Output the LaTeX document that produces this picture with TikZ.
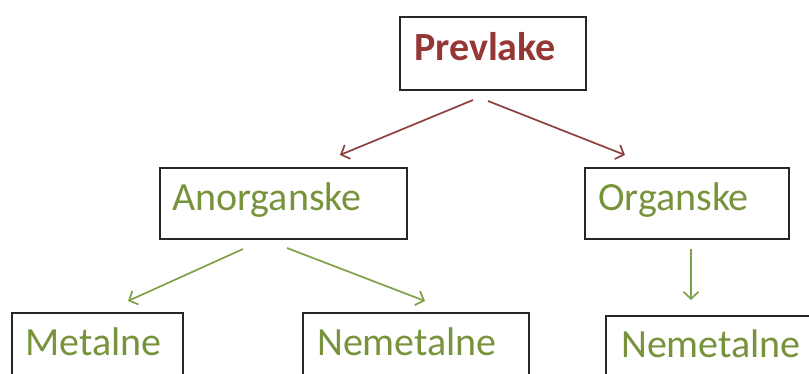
\documentclass[tikz,border=0pt]{standalone}
\usepackage{fontspec}
\setmainfont{Carlito}
\usetikzlibrary{arrows.meta}
\definecolor{redtxt}{HTML}{953735}
\definecolor{redarr}{HTML}{8E4040}
\definecolor{greentxt}{HTML}{77933C}
\definecolor{greenarr}{HTML}{7FA048}
\begin{document}
\begin{tikzpicture}[x=1pt,y=-1pt,
  box/.style={draw=black!85,line width=1.6pt,rectangle,inner sep=0pt},
  lbl/.style={anchor=base west,inner sep=0pt,font=\fontsize{40}{48}\selectfont},
  redarrow/.style={draw=redarr,line width=1.7pt,-{Straight Barb[length=7pt,width=15pt,line width=1.7pt]}},
  greenarrow/.style={draw=greenarr,line width=1.7pt,-{Straight Barb[length=7pt,width=15pt,line width=1.7pt]}}]
\useasboundingbox (0,0) rectangle (809,373);
\clip (0,0) rectangle (809,373);
% boxes
\node[box,minimum width=186pt,minimum height=73pt,anchor=north west] (prev) at (399,16) {};
\node[box,minimum width=247pt,minimum height=71pt,anchor=north west] (anorg) at (159,167) {};
\node[box,minimum width=204pt,minimum height=71pt,anchor=north west] (org) at (584,167) {};
\node[box,minimum width=171pt,minimum height=73pt,anchor=north west] (met) at (11,312) {};
\node[box,minimum width=226pt,minimum height=73pt,anchor=north west] (nem1) at (302,312) {};
\node[box,minimum width=230pt,minimum height=73pt,anchor=north west] (nem2) at (605,315) {};
% labels
\node[lbl,text=redtxt,font=\fontsize{40}{48}\selectfont\bfseries] (tprev) at (414,60) {Prevlake};
\node[lbl,text=greentxt] (tanorg) at (172,210) {Anorganske};
\node[lbl,text=greentxt] (torg) at (598,210) {Organske};
\node[lbl,text=greentxt] (tmet) at (25,355) {Metalne};
\node[lbl,text=greentxt] (tnem1) at (317,355) {Nemetalne};
\node[lbl,text=greentxt] (tnem2) at (621,357) {Nemetalne};
% connector end points
\coordinate (p1) at (473,100);
\coordinate (p2) at (488,101);
\coordinate (a1) at (340,155);
\coordinate (o1) at (625,155);
\coordinate (an1) at (243,249);
\coordinate (an2) at (287,248);
\coordinate (m1) at (128,301);
\coordinate (n1) at (425,301);
\coordinate (or1) at (691,249);
\coordinate (n2) at (691,300);
% connectors
\draw[redarrow] (p1) -- (a1);
\draw[redarrow] (p2) -- (o1);
\draw[greenarrow] (an1) -- (m1);
\draw[greenarrow] (an2) -- (n1);
\draw[greenarrow] (or1) -- (n2);
\end{tikzpicture}
\end{document}
